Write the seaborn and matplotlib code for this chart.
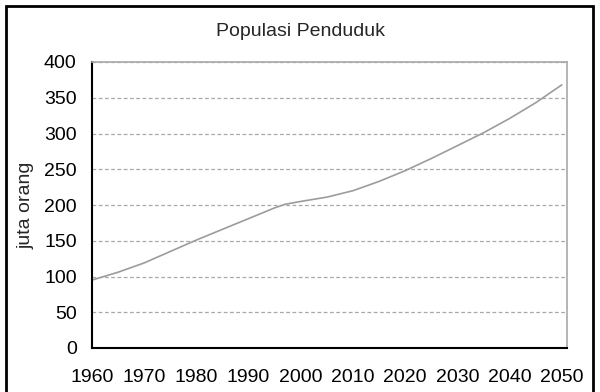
import matplotlib
matplotlib.use('Agg')
import matplotlib.pyplot as plt
import seaborn as sns
import pandas as pd
from matplotlib.patches import Rectangle

# Data populasi (juta orang)
tahun = [1960, 1965, 1970, 1975, 1980, 1985, 1990, 1995, 1997, 2000,
         2005, 2010, 2015, 2020, 2025, 2030, 2035, 2040, 2045, 2050]
populasi = [95, 106, 119, 135, 151, 166, 181, 196, 201, 205,
            211, 220, 233, 248, 265, 283, 301, 321, 343, 368]

df = pd.DataFrame({'tahun': tahun, 'populasi': populasi})

sns.set_style('white')
plt.rcParams['font.family'] = ['Liberation Sans', 'DejaVu Sans']

fig = plt.figure(figsize=(6, 3.92), dpi=100)
ax = fig.add_axes([92/600, 1 - 348/392, (567 - 92)/600, (348 - 62)/392])

sns.lineplot(data=df, x='tahun', y='populasi', ax=ax, color='#9c9c9c', linewidth=1.2)

ax.set_xlim(1960, 2051)
ax.set_ylim(0, 400)
ax.set_yticks(range(0, 401, 50))
xt = list(range(1960, 2051, 5))
ax.set_xticks(xt)
ax.set_xticklabels([str(t) if t % 10 == 0 else '' for t in xt])

for y in range(50, 401, 50):
    ax.axhline(y, color='#a8a8a8', linestyle=(0, (3, 2)), linewidth=0.9, zorder=0)

ax.tick_params(axis='both', labelsize=14, length=6, width=1.3, colors='black', direction='out')
ax.tick_params(axis='x', pad=9)
ax.tick_params(axis='y', pad=5)

for s in ['left', 'bottom']:
    ax.spines[s].set_color('black')
    ax.spines[s].set_linewidth(1.5)
for s in ['top', 'right']:
    ax.spines[s].set_color('#a8a8a8')
    ax.spines[s].set_linewidth(1.2)

ax.set_xlabel('')
ax.set_ylabel('juta orang', fontsize=14)
ax.yaxis.set_label_coords(-0.122, 0.5)

fig.text(0.5, 1 - 32/392, 'Populasi Penduduk', ha='center', va='center', fontsize=14)

# bingkai luar
fig.patches.append(Rectangle((6/600, -0.05), (593 - 6)/600, 1.05 - 6/392,
                             transform=fig.transFigure, fill=False,
                             edgecolor='black', linewidth=2, clip_on=False))

fig.savefig('out.png', dpi=100)
